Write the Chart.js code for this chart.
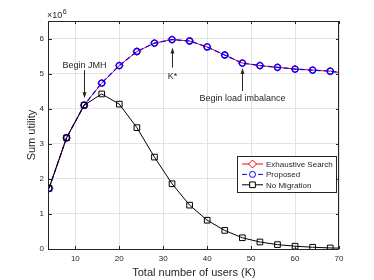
<!DOCTYPE html>
<html>
<head>
<meta charset="utf-8">
<script src="https://cdn.jsdelivr.net/npm/chart.js@4/dist/chart.umd.min.js"></script>
<style>
html, body { margin: 0; padding: 0; background: #fff; }
</style>
</head>
<body>
<canvas id="chart" width="374" height="280"></canvas>
<script>
// data (values in units of 10^6)
const users = [4, 8, 12, 16, 20, 24, 28, 32, 36, 40, 44, 48, 52, 56, 60, 64, 68, 72];
const exhaustiveSearch = [1.73, 3.17, 4.10, 4.73, 5.23, 5.63, 5.87, 5.97, 5.93, 5.76, 5.53, 5.30, 5.23, 5.18, 5.13, 5.10, 5.07, 5.00];
const proposed = [1.73, 3.17, 4.10, 4.73, 5.23, 5.63, 5.87, 5.97, 5.93, 5.76, 5.53, 5.30, 5.23, 5.18, 5.13, 5.10, 5.07, 5.00];
const noMigration = [1.73, 3.17, 4.10, 4.42, 4.13, 3.46, 2.62, 1.86, 1.25, 0.82, 0.53, 0.32, 0.20, 0.125, 0.08, 0.05, 0.03, 0.02];
const xTicks = [10, 20, 30, 40, 50, 60, 70];
const yTicks = [0, 1, 2, 3, 4, 5, 6];

// arrows: anchored on a point of the Proposed curve
const notes = [
    { label: 'Begin JMH', index: 2, head: -7, tail: -35, text: -40 },
    { label: 'K*', index: 7, head: 8, tail: 28, text: 37 },
    { label: 'Begin load imbalance', index: 11, head: 5, tail: 28, text: 35 }
];

const FONT = "'Liberation Sans', Arial, sans-serif";
const INK = '#262626';

function toPoints(ys) {
    return users.map((u, i) => ({ x: u, y: ys[i] }));
}

const frame = {
    id: 'frame',
    afterDatasetsDraw(chart) {
        const { ctx, chartArea: a } = chart;
        const xs = chart.scales.x, ys = chart.scales.y;
        ctx.save();
        ctx.strokeStyle = INK;
        ctx.lineWidth = 1;
        ctx.strokeRect(Math.round(a.left) - 0.5, Math.round(a.top) + 0.5,
            Math.round(a.right - a.left), Math.round(a.bottom - a.top));
        // inward ticks
        ctx.beginPath();
        xTicks.forEach(t => {
            const px = Math.round(xs.getPixelForValue(t)) + 0.5;
            ctx.moveTo(px, a.bottom); ctx.lineTo(px, a.bottom - 3);
            ctx.moveTo(px, a.top); ctx.lineTo(px, a.top + 3);
        });
        yTicks.forEach(t => {
            const py = Math.round(ys.getPixelForValue(t)) + 0.5;
            ctx.moveTo(a.left, py); ctx.lineTo(a.left + 3, py);
            ctx.moveTo(a.right, py); ctx.lineTo(a.right - 3, py);
        });
        ctx.stroke();

        // exponent label
        ctx.fillStyle = INK;
        ctx.textBaseline = 'alphabetic';
        ctx.textAlign = 'left';
        ctx.font = '9px ' + FONT;
        ctx.fillText('\u00d710', a.left - 2, a.top - 3);
        const w = ctx.measureText('\u00d710').width;
        ctx.font = '7px ' + FONT;
        ctx.fillText('6', a.left - 1.5 + w, a.top - 7);

        // annotations
        ctx.fillStyle = INK;
        ctx.strokeStyle = INK;
        notes.forEach(n => {
            const px = Math.round(xs.getPixelForValue(users[n.index])) + 0.5;
            const py = ys.getPixelForValue(proposed[n.index]);
            const head = py + n.head, tail = py + n.tail;
            const dir = head > tail ? 1 : -1;
            ctx.beginPath();
            ctx.moveTo(px, tail);
            ctx.lineTo(px, head - dir * 5);
            ctx.stroke();
            ctx.beginPath();
            ctx.moveTo(px, head);
            ctx.lineTo(px - 2, head - dir * 6);
            ctx.lineTo(px + 2, head - dir * 6);
            ctx.closePath();
            ctx.fill();
            ctx.font = '9px ' + FONT;
            ctx.textAlign = 'center';
            ctx.textBaseline = 'middle';
            ctx.fillText(n.label, px, py + n.text);
        });

        // legend box
        const lx = a.right - 102, ly = a.bottom - 93;
        ctx.fillStyle = '#fff';
        ctx.fillRect(lx, ly, 99, 36);
        ctx.strokeRect(lx + 0.5, ly + 0.5, 99, 36);
        chart.data.datasets.forEach((ds, i) => {
            const ry = ly + 8 + i * 10.4;
            ctx.save();
            ctx.strokeStyle = ds.borderColor;
            ctx.fillStyle = 'rgba(0,0,0,0)';
            ctx.lineWidth = 1;
            ctx.setLineDash(ds.borderDash || []);
            ctx.beginPath();
            ctx.moveTo(lx + 5, ry);
            ctx.lineTo(lx + 26, ry);
            ctx.stroke();
            ctx.setLineDash([]);
            ctx.fillStyle = '#fff';
            Chart.helpers.drawPoint(ctx, {
                pointStyle: ds.pointStyle, radius: ds.pointRadius, borderWidth: 1
            }, lx + 15.5, ry);
            ctx.restore();
            ctx.fillStyle = INK;
            ctx.font = '8px ' + FONT;
            ctx.textAlign = 'left';
            ctx.textBaseline = 'middle';
            ctx.fillText(ds.label, lx + 29, ry + 0.5);
        });
        ctx.restore();
    }
};

new Chart(document.getElementById('chart'), {
    type: 'line',
    data: {
        datasets: [{
            label: 'Exhaustive Search',
            data: toPoints(exhaustiveSearch),
            borderColor: '#ff0000',
            borderWidth: 1,
            pointStyle: 'rectRot',
            pointRadius: 4,
            pointBorderColor: '#ff0000',
            pointBackgroundColor: 'rgba(0,0,0,0)',
            pointBorderWidth: 1,
            order: 3
        }, {
            label: 'Proposed',
            data: toPoints(proposed),
            borderColor: '#0000ff',
            borderWidth: 1.2,
            borderDash: [5, 3],
            pointStyle: 'circle',
            pointRadius: 3,
            pointBorderColor: '#0000ff',
            pointBackgroundColor: 'rgba(0,0,0,0)',
            pointBorderWidth: 1.3,
            order: 2
        }, {
            label: 'No Migration',
            data: toPoints(noMigration),
            borderColor: '#000000',
            borderWidth: 1,
            pointStyle: 'rect',
            pointRadius: 4,
            pointBorderColor: '#000000',
            pointBackgroundColor: 'rgba(0,0,0,0)',
            pointBorderWidth: 1,
            order: 1
        }]
    },
    options: {
        responsive: false,
        animation: false,
        devicePixelRatio: 1,
        layout: { padding: { left: 25, right: 35, top: 21, bottom: 0 } },
        plugins: { legend: { display: false }, tooltip: { enabled: false } },
        elements: { line: { tension: 0 } },
        scales: {
            x: {
                type: 'linear',
                min: 4,
                max: 70,
                afterFit: s => { s.height = 31; },
                afterBuildTicks: s => { s.ticks = xTicks.map(v => ({ value: v })); },
                grid: { color: '#e3e3e3', drawTicks: false },
                border: { display: false },
                ticks: { font: { family: FONT, size: 8 }, color: INK, padding: 5, maxRotation: 0 },
                title: { display: true, text: 'Total number of users (K)', color: INK,
                    font: { family: FONT, size: 11 }, padding: 0 }
            },
            y: {
                min: 0,
                max: 6.5,
                afterFit: s => { s.width = 24; },
                afterBuildTicks: s => { s.ticks = yTicks.map(v => ({ value: v })); },
                grid: { color: '#e3e3e3', drawTicks: false },
                border: { display: false },
                ticks: { font: { family: FONT, size: 8 }, color: INK, padding: 5 },
                title: { display: true, text: 'Sum utility', color: INK,
                    font: { family: FONT, size: 11 }, padding: 0 }
            }
        }
    },
    plugins: [frame]
});
</script>
</body>
</html>
